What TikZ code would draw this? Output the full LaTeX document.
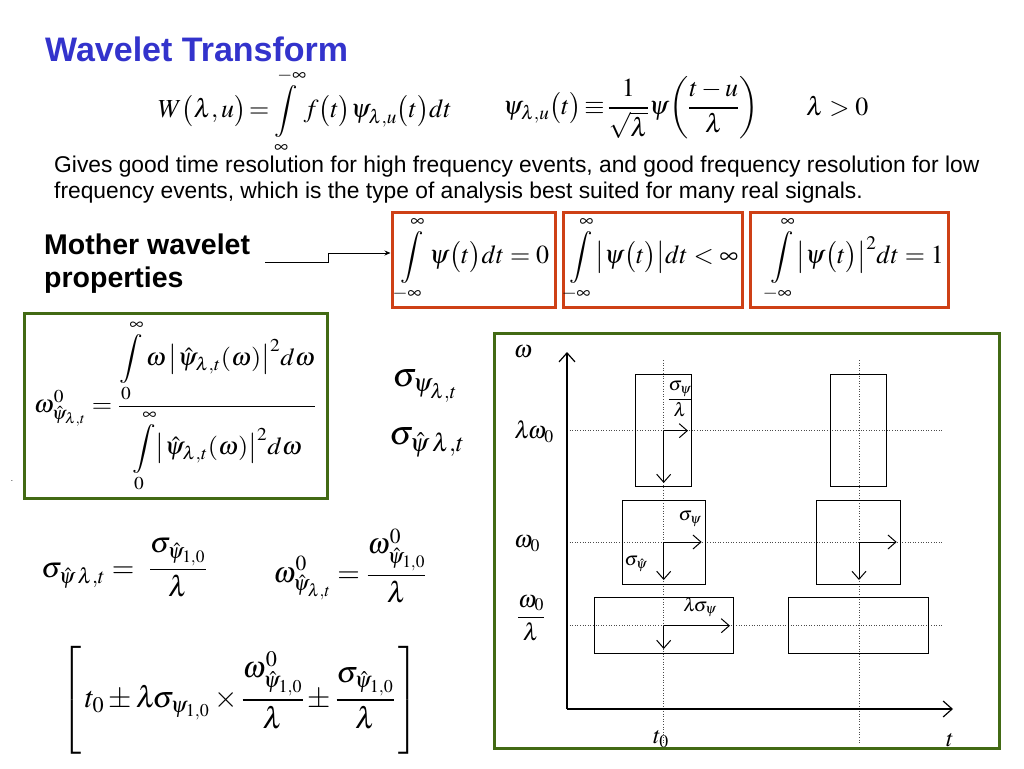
\documentclass[tikz,border=0pt]{standalone}
\usepackage{amsmath}
\usepackage{graphicx}
\usepackage{mathptmx}
\usepackage[no-math]{fontspec}
\setmainfont{Liberation Sans}
\usetikzlibrary{arrows.meta,calc}
\definecolor{titleblue}{RGB}{51,51,204}
\definecolor{boxred}{RGB}{206,64,22}
\definecolor{boxgreen}{RGB}{66,106,20}
\newcommand\mfont{\fontsize{26}{30}\selectfont}
\newcommand\mfontb{\fontsize{24.5}{28}\selectfont}
\newcommand\dfont{\fontsize{19}{22}\selectfont}
\newcommand\lfont{\fontsize{24}{28}\selectfont}
\begin{document}
\begin{tikzpicture}[x=1pt,y=-1pt,
  txt/.style={inner sep=0pt},
  redbox/.style={draw=boxred, line width=3pt, inner sep=0pt, minimum height=95pt, font=\mfont},
  greenframe/.style={draw=boxgreen, line width=3pt},
  dots/.style={dotted, line width=0.6pt, black!70},
  cell/.style={draw=black, line width=1pt},
  axis/.style={line width=1.2pt, -{Straight Barb[length=9pt,width=16pt,line width=1.2pt]}},
  spread/.style={line width=1pt, -{Straight Barb[length=8pt,width=14pt,line width=1pt]}}]
\fill[white] (0,0) rectangle (1024,768);
\useasboundingbox (0,0) rectangle (1024,768);

% title
\node[txt, anchor=base west, font=\fontsize{34}{40}\selectfont\bfseries, text=titleblue] (title) at (45,62) {Wavelet Transform};

% first formula row
\node[txt, anchor=west, font=\mfont] (wt) at (158,111) {$\displaystyle W\bigl(\lambda,u\bigr)\!=\!\int\limits_{\infty}^{-\infty} f\bigl(t\bigr)\psi_{\lambda,u}\bigl(t\bigr)dt$};
\node[txt, anchor=west, font=\mfont] (psidef) at (503,108) {$\displaystyle \psi_{\lambda,u}\bigl(t\bigr)\!\equiv\!\frac{1}{\sqrt{\lambda}}\psi\!\left(\frac{t-u}{\lambda}\right)$};
\node[txt, anchor=west, font=\mfont] (lpos) at (806,106) {$\lambda>0$};

% paragraph
\node[txt, anchor=base west, font=\fontsize{22.8}{26}\selectfont] (para1) at (54,172) {Gives good time resolution for high frequency events, and good frequency resolution for low};
\node[txt, anchor=base west, font=\fontsize{22.8}{26}\selectfont] (para2) at (54,198) {frequency events, which is the type of analysis best suited for many real signals.};

% mother wavelet properties
\node[txt, anchor=base west, font=\fontsize{28.5}{32}\selectfont\bfseries] (mw1) at (44,254) {Mother wavelet};
\node[txt, anchor=base west, font=\fontsize{28.5}{32}\selectfont\bfseries] (mw2) at (44,287) {properties};

\node[redbox, minimum width=163pt] (b1) at (473.5,259.5) {$\displaystyle\int\limits_{-\infty}^{\infty}\psi\bigl(t\bigr)dt=0$};
\node[redbox, minimum width=179pt] (b2) at (652.5,259.5) {$\displaystyle\int\limits_{-\infty}^{\infty}\bigl|\psi\bigl(t\bigr)\bigr|dt<\infty$};
\node[redbox, minimum width=198pt] (b3) at (849,259.5) {\hspace{14pt}$\displaystyle\int\limits_{-\infty}^{\infty}\bigl|\psi\bigl(t\bigr)\bigr|^{2}dt=1$};

\coordinate (mwstart) at (265,262);
\draw[line width=1pt, -{Stealth[length=6pt,width=5pt]}] (mwstart) -- (328,262) |- ([yshift=6.5pt]b1.west);

% left green box
\draw[greenframe] (24,313) rectangle (327,498);
\node[txt, font=\mfontb] (omega0) at (175,406) {\scalebox{1.07}[1]{$\displaystyle \omega^{0}_{\hat\psi_{\lambda,t}} = \frac{\displaystyle\int\limits_{0}^{\infty}\omega\,\bigl|\hat\psi_{\lambda,t}(\omega)\bigr|^{2}d\omega}{\displaystyle\int\limits_{0}^{\infty}\bigl|\hat\psi_{\lambda,t}(\omega)\bigr|^{2}d\omega}$}};
\node[txt, font=\fontsize{8}{8}\selectfont] (dot) at (12,481) {.};

% sigma symbols
\node[txt, font=\fontsize{34}{38}\selectfont] (sig1) at (425,386) {$\sigma_{\psi_{\lambda,t}}$};
\node[txt, font=\fontsize{34}{38}\selectfont] (sig2) at (427,442) {$\sigma_{\hat\psi\,\lambda,t}$};

% scaling relations
\node[txt, font=\fontsize{29}{33}\selectfont] (rel1) at (124,568) {$\displaystyle \sigma_{\hat\psi\,\lambda,t}=\ \frac{\sigma_{\hat\psi_{1,0}}}{\lambda}$};
\node[txt, font=\fontsize{29}{33}\selectfont] (rel2) at (350,566) {$\displaystyle \omega^{0}_{\hat\psi_{\lambda,t}}=\frac{\omega^{0}_{\hat\psi_{1,0}}}{\lambda}$};

% box
\node[txt, font=\fontsize{30}{34}\selectfont] (tfbox) at (240,700) {$\displaystyle\left[\rule[-46pt]{0pt}{102pt}\, t_{0}\pm\lambda\!\sigma_{\psi_{1,0}}\times\frac{\omega^{0}_{\hat\psi_{1,0}}}{\lambda}\pm\frac{\sigma_{\hat\psi_{1,0}}}{\lambda}\,\right]$};

% right diagram
\draw[greenframe] (494,333) rectangle (999,748);
\coordinate (O) at (567,709);
\coordinate (wtop) at (567,352);
\coordinate (tend) at (953,709);
\draw[dots] (567,430.7) -- (943,430.7);
\draw[dots] (567,542) -- (943,542);
\draw[dots] (567,625.7) -- (943,625.7);
\draw[dots] (663.7,360) -- (663.7,743);
\draw[dots] (859,360) -- (859,743);
\draw[axis] (O) -- (wtop);
\draw[axis] (O) -- (tend);

\draw[cell] (635.3,374.3) rectangle (691.7,486.3);
\draw[cell] (830.7,374.3) rectangle (886.7,486.3);
\draw[cell] (622,500.3) rectangle (705.3,584);
\draw[cell] (816.7,500.3) rectangle (900.7,584);
\draw[cell] (594,597.7) rectangle (733.3,653.3);
\draw[cell] (788.7,597.7) rectangle (928.3,653.3);

\coordinate (c1) at (663.7,430.7);
\coordinate (c2) at (663.7,542);
\coordinate (c3) at (859,542);
\coordinate (c4) at (663.7,625.7);
\draw[spread] (c1) -- (688,430.7);
\draw[spread] (c1) -- (663.7,483);
\draw[spread] (c2) -- (701.7,542);
\draw[spread] (c2) -- (663.7,580);
\draw[spread] (c3) -- (896.7,542);
\draw[spread] (c3) -- (859,580);
\draw[spread] (c4) -- (730,625.7);
\draw[spread] (c4) -- (663.7,649);

\node[txt, font=\lfont] (lw) at (523,352) {$\omega$};
\node[txt, font=\lfont] (llw0) at (534,432) {$\lambda\!\omega_{0}$};
\node[txt, font=\lfont] (lw0) at (527,544) {$\omega_{0}$};
\node[txt, font=\lfont] (lw0l) at (531,618) {$\dfrac{\omega_{0}}{\lambda}$};
\node[txt, font=\dfont] (lsl) at (680,399) {$\dfrac{\sigma_{\psi}}{\lambda}$};
\node[txt, font=\dfont] (ls) at (690,519) {$\sigma_{\psi}$};
\node[txt, font=\dfont] (lsh) at (636,564) {$\sigma_{\hat\psi}$};
\node[txt, font=\dfont] (lls) at (700,607) {$\lambda\!\sigma_{\psi}$};
\node[txt, font=\lfont] (lt0) at (661,739) {$t_{0}$};
\node[txt, font=\lfont] (lt) at (950,740) {$t$};
\end{tikzpicture}
\end{document}
